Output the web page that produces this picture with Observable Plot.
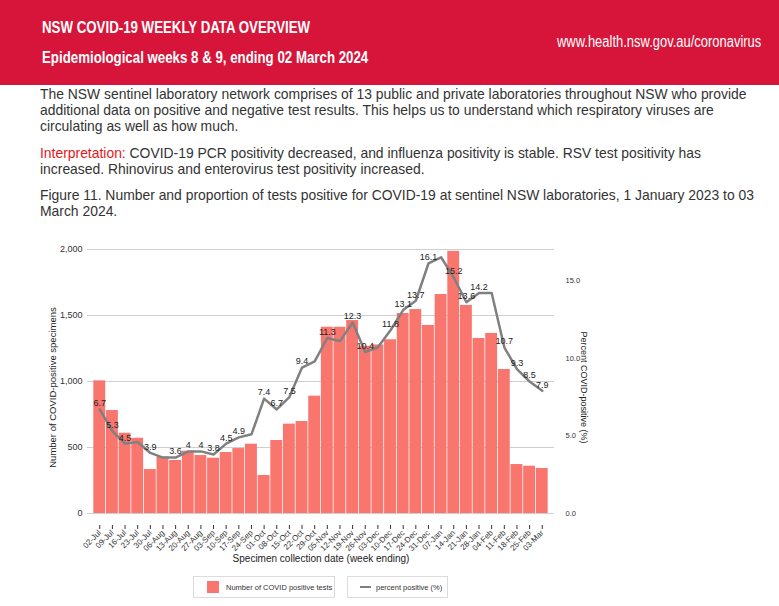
<!DOCTYPE html>
<html>
<head>
<meta charset="utf-8">
<script src="https://cdn.jsdelivr.net/npm/d3@7"></script>
<script src="https://cdn.jsdelivr.net/npm/@observablehq/plot@0.6"></script>
<style>
  html, body { margin: 0; padding: 0; background: #fff; }
  #page { position: relative; width: 779px; height: 606px; overflow: hidden; font-family: "Liberation Sans", Arial, sans-serif; }
  #header { position: absolute; left: 0; top: 0; width: 779px; height: 85px; background: #d7153a; color: #fff;
            font-family: "Liberation Sans", Arial, sans-serif; }
  #h1 { position: absolute; left: 42px; top: 19px; font-size: 16px; font-weight: bold; white-space: nowrap;
        transform: scaleX(0.83); transform-origin: left center; }
  #h2 { position: absolute; left: 42px; top: 49px; font-size: 16px; font-weight: bold; white-space: nowrap;
        transform: scaleX(0.83); transform-origin: left center; }
  #url { position: absolute; right: 18px; top: 33px; font-size: 16px; white-space: nowrap;
         transform: scaleX(0.81); transform-origin: right center; }
  .para { position: absolute; left: 40px; font-size: 13.9px; line-height: 16px; color: #333; white-space: nowrap; }
  .red { color: #e8141c; }
  #chart { position: absolute; left: 0; top: 230px; }
  .legbox { position: absolute; top: 576px; height: 22px; border: 1px solid #dcdcdc; background: #fff;
            font-size: 7.5px; color: #333; box-sizing: border-box; }
  .legbox span.t { position: absolute; top: 6px; white-space: nowrap; }
</style>
</head>
<body>
<div id="page">
  <div id="header">
    <div id="h1">NSW COVID-19 WEEKLY DATA OVERVIEW</div>
    <div id="h2">Epidemiological weeks 8 &amp; 9, ending 02 March 2024</div>
    <div id="url">www.health.nsw.gov.au/coronavirus</div>
  </div>
  <div class="para" style="top:86px">The NSW sentinel laboratory network comprises of 13 public and private laboratories throughout NSW who provide<br>additional data on positive and negative test results. This helps us to understand which respiratory viruses are<br>circulating as well as how much.</div>
  <div class="para" style="top:145px"><span class="red">Interpretation:</span> COVID-19 PCR positivity decreased, and influenza positivity is stable. RSV test positivity has<br>increased. Rhinovirus and enterovirus test positivity increased.</div>
  <div class="para" style="top:187px">Figure 11. Number and proportion of tests positive for COVID-19 at sentinel NSW laboratories, 1 January 2023 to 03<br>March 2024.</div>
  <div id="chart"></div>
  <div class="legbox" style="left:193px; width:142px;">
    <div style="position:absolute; left:13px; top:4px; width:12px; height:12px; background:#F8766D;"></div>
    <span class="t" style="left:32px;">Number of COVID positive tests</span>
  </div>
  <div class="legbox" style="left:347px; width:101px;">
    <div style="position:absolute; left:12px; top:9px; width:11px; height:2px; background:#808080;"></div>
    <span class="t" style="left:28px;">percent positive (%)</span>
  </div>
</div>
<script>
// ---- data ----
const weeks = ["02-Jul","09-Jul","16-Jul","23-Jul","30-Jul","06-Aug","13-Aug","20-Aug","27-Aug","03-Sep",
  "10-Sep","17-Sep","24-Sep","01-Oct","08-Oct","15-Oct","22-Oct","29-Oct","05-Nov","12-Nov",
  "19-Nov","26-Nov","03-Dec","10-Dec","17-Dec","24-Dec","31-Dec","07-Jan","14-Jan","21-Jan",
  "28-Jan","04-Feb","11-Feb","18-Feb","25-Feb","03-Mar"];
const counts = [1005, 780, 608, 570, 333, 427, 402, 472, 439, 419,
  462, 492, 525, 288, 553, 677, 697, 889, 1411, 1411,
  1462, 1267, 1277, 1316, 1515, 1545, 1425, 1659, 1986, 1576,
  1326, 1364, 1091, 371, 358, 341];
const percent = [6.7, 5.3, 4.5, 4.6, 3.9, 3.6, 3.6, 4, 4, 3.8,
  4.5, 4.9, 5.1, 7.4, 6.7, 7.5, 9.4, 9.8, 11.3, 11.1,
  12.3, 10.4, 10.7, 11.8, 13.1, 13.7, 16.1, 16.5, 15.2, 13.6,
  14.2, 14.2, 10.7, 9.3, 8.5, 7.9];
const labelled = [1,1,1,0,1,0,1,1,1,1, 1,1,0,1,1,1,1,0,1,0, 1,1,0,1,1,1,1,0,1,1, 1,0,1,1,1,1];
const leftTicks = [0, 500, 1000, 1500, 2000];
const rightTicks = [0, 5, 10, 15];
const rightMax = 17;   // percent at the top of the left axis (2,000)

// ---- chart ----
const K = 2000 / rightMax;
const data = weeks.map((w, i) => ({week: w, count: counts[i], pct: percent[i], lab: labelled[i] === 1}));

const chart = Plot.plot({
  width: 779,
  height: 350,
  marginTop: 19,
  marginBottom: 55,
  marginLeft: 87,
  marginRight: 225,
  style: {fontFamily: "'Liberation Sans', Arial, sans-serif", fontSize: "9px", background: "transparent", color: "#333"},
  x: {type: "band", domain: weeks, paddingInner: 0.06, paddingOuter: 0.5, round: false, label: null},
  y: {domain: [0, 2000], insetBottom: 12, label: null},
  marks: [
    Plot.gridY(leftTicks, {stroke: "#cfcfcf", strokeOpacity: 1, strokeWidth: 1}),
    Plot.barY(data, {x: "week", y: "count", fill: "#F8766D"}),
    Plot.lineY(data, {x: "week", y: d => d.pct * K, stroke: "#808080", strokeWidth: 2.5}),
    Plot.text(data.filter(d => d.lab), {x: "week", y: d => d.pct * K, text: d => String(d.pct),
      dy: -6, fontSize: 9, fill: "#222"}),
    Plot.axisY({ticks: leftTicks, tickSize: 0, tickPadding: 5, tickFormat: d3.format(","), fontSize: 9, label: null}),
    Plot.axisY({anchor: "right", ticks: rightTicks.map(v => v * K), tickSize: 0, tickPadding: 11,
      tickFormat: d => (d / K).toFixed(1), fontSize: 7.5, label: null}),
    Plot.axisX({tickRotate: -45, tickSize: 4, tickPadding: 2, fontSize: 8, label: null}),
    Plot.text(["Number of COVID-positive specimens"], {frameAnchor: "left", textAnchor: "middle", dx: -35, rotate: -90, fontSize: 9.5, fill: "#222"}),
    Plot.text(["Percent COVID-positive (%)"], {frameAnchor: "right", textAnchor: "middle", dx: 29, rotate: 90, fontSize: 9, fill: "#222"}),
    Plot.text(["Specimen collection date (week ending)"], {frameAnchor: "bottom", dy: 36, fontSize: 10, fill: "#222"})
  ]
});
document.getElementById("chart").appendChild(chart);
</script>
</body>
</html>
